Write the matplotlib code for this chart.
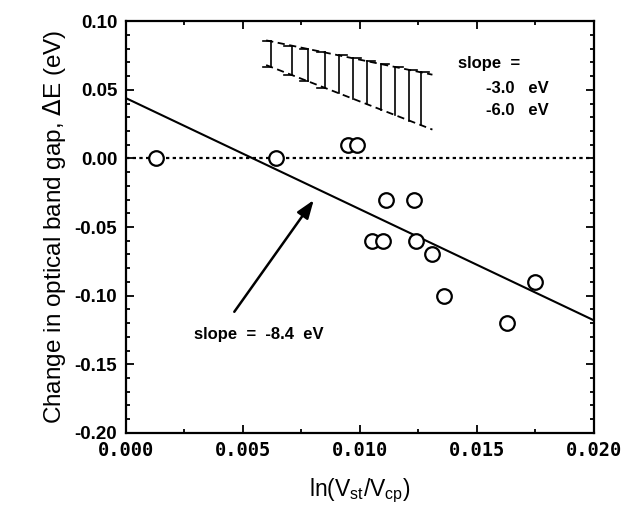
import matplotlib.pyplot as plt
from matplotlib.ticker import MultipleLocator

plt.rcParams["font.family"] = ["Liberation Sans", "DejaVu Sans"]

# measured points
ln_ratio = [0.0013, 0.0064, 0.0095, 0.0099, 0.0111, 0.0123, 0.0105, 0.0110,
            0.0124, 0.0131, 0.0136, 0.0175, 0.0163]
delta_e = [0.00, 0.00, 0.01, 0.01, -0.03, -0.03, -0.06, -0.06,
           -0.06, -0.07, -0.10, -0.09, -0.12]

# fitted line, slope = -8.1 eV
fit_x = [0.0, 0.020]
fit_y = [0.044, -0.118]

# hatched band between slopes -3.0 eV and -6.0 eV
band_x = [0.0060, 0.0131]
band_top = [0.086, 0.061]
band_bottom = [0.068, 0.021]
hatch_x = [0.0062, 0.0071, 0.0078, 0.0085, 0.0091, 0.0097, 0.0103,
           0.0109, 0.0115, 0.0121, 0.0126]

x_ticks = [0.000, 0.005, 0.010, 0.015, 0.020]
y_ticks = [0.10, 0.05, 0.00, -0.05, -0.10, -0.15, -0.20]


def interp(x, xs, ys):
    t = (x - xs[0]) / (xs[1] - xs[0])
    return ys[0] + t * (ys[1] - ys[0])


fig = plt.figure(figsize=(6.38, 5.16), dpi=100)
ax = fig.add_axes([0.197, 0.161, 0.734, 0.798])

ax.plot([0, 0.02], [0, 0], color="black", linestyle=(0, (1.5, 1.5)), linewidth=1.6)
ax.plot(fit_x, fit_y, color="black", linewidth=1.5)
ax.plot(ln_ratio, delta_e, "o", markersize=10.5, markerfacecolor="white",
        markeredgecolor="black", markeredgewidth=1.6, linestyle="none")

# band of possible slopes
ax.plot(band_x, band_top, color="black", linestyle=(0, (4, 2.5)), linewidth=1.3)
ax.plot(band_x, band_bottom, color="black", linestyle=(0, (4, 2.5)), linewidth=1.3)
cap = 0.00035
for i, hx in enumerate(hatch_x):
    top = interp(hx, band_x, band_top)
    bot = interp(hx, band_x, band_bottom)
    ax.plot([hx, hx], [bot, top], color="black", linewidth=1.2)
    if i < 4:
        ax.plot([hx - cap, hx], [top, top], color="black", linewidth=1.2)
        ax.plot([hx - cap, hx], [bot, bot], color="black", linewidth=1.2)
    else:
        ax.plot([hx, hx + cap], [top, top], color="black", linewidth=1.2)

ax.text(0.0142, 0.069, "slope  =", fontsize=12, fontweight="bold", va="center")
ax.text(0.0154, 0.051, "-3.0   eV", fontsize=12, fontweight="bold", va="center")
ax.text(0.0154, 0.035, "-6.0   eV", fontsize=12, fontweight="bold", va="center")

ax.annotate("", xy=(0.0081, -0.0287), xytext=(0.00457, -0.1134),
            arrowprops=dict(arrowstyle="-|>,head_length=1.1,head_width=0.4",
                            color="black", linewidth=1.8))
ax.text(0.0029, -0.128, "slope  =  -8.4  eV", fontsize=12, fontweight="bold",
        va="center")

ax.set_xlim(0.0, 0.020)
ax.set_ylim(-0.20, 0.10)
ax.set_xticks(x_ticks)
ax.set_xticklabels([f"{v:.3f}" for v in x_ticks])
ax.set_yticks(y_ticks)
ax.set_yticklabels([f"{v:.2f}" for v in y_ticks])
ax.xaxis.set_minor_locator(MultipleLocator(0.0025))
ax.yaxis.set_minor_locator(MultipleLocator(0.01))
ax.tick_params(which="both", direction="in", top=True, right=True, width=1.3)
ax.tick_params(which="major", length=6, pad=6)
ax.tick_params(axis="y", which="major", labelsize=13.5)
ax.tick_params(axis="x", which="major", labelsize=13.5)
ax.tick_params(which="minor", length=3)
for lab in ax.get_xticklabels() + ax.get_yticklabels():
    lab.set_fontweight("bold")
for lab in ax.get_xticklabels():
    lab.set_fontfamily("DejaVu Sans Mono")
for s in ax.spines.values():
    s.set_linewidth(1.6)

ax.set_ylabel(r"Change in optical band gap, $\Delta$E (eV)", fontsize=17.5, labelpad=5)
ax.set_xlabel(r"ln(V$_{\mathregular{st}}$/V$_{\mathregular{cp}}$)", fontsize=16.5, labelpad=12)

fig.savefig("out.png", dpi=100)
